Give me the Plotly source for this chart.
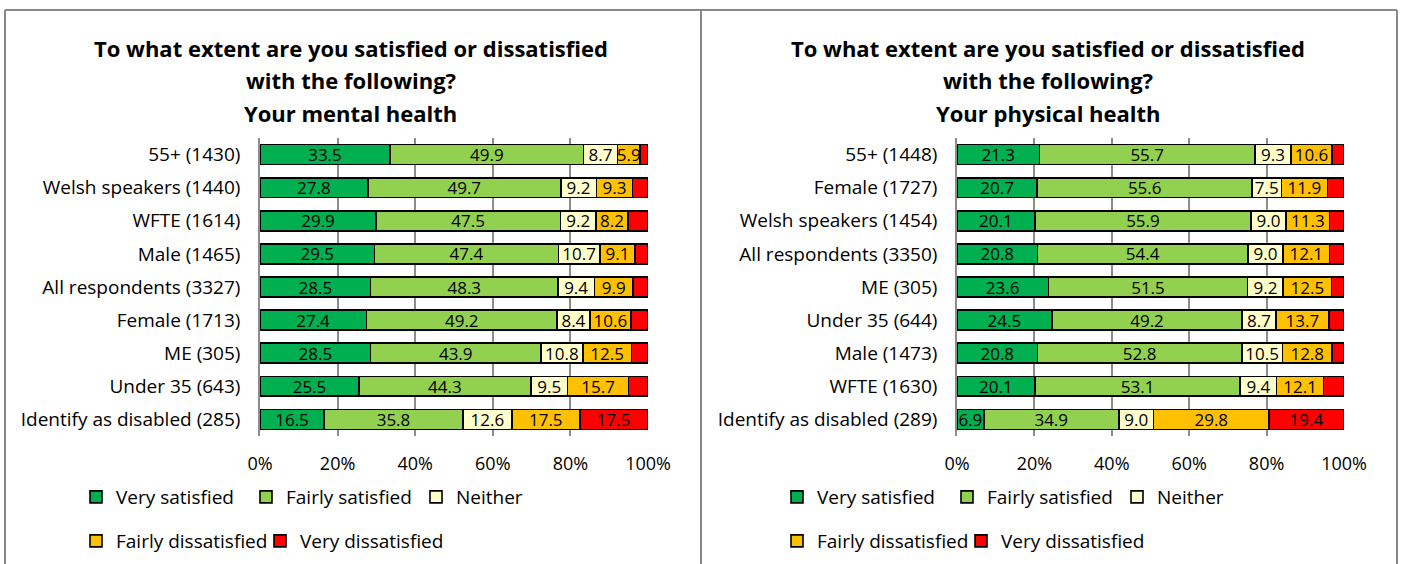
import plotly.graph_objects as go

W, H = 1402, 564
FONT = "Open Sans"

series_names = ["Very satisfied", "Fairly satisfied", "Neither",
                "Fairly dissatisfied", "Very dissatisfied"]
series_colors = ["#00B050", "#92D050", "#FFFFCC", "#FFC000", "#FF0000"]

# ---- Left chart: mental health ----
mental_categories = ["55+ (1430)", "Welsh speakers (1440)", "WFTE (1614)", "Male (1465)",
                     "All respondents (3327)", "Female (1713)", "ME (305)",
                     "Under 35 (643)", "Identify as disabled (285)"]
mental_very_sat = [33.5, 27.8, 29.9, 29.5, 28.5, 27.4, 28.5, 25.5, 16.5]
mental_fairly_sat = [49.9, 49.7, 47.5, 47.4, 48.3, 49.2, 43.9, 44.3, 35.8]
mental_neither = [8.7, 9.2, 9.2, 10.7, 9.4, 8.4, 10.8, 9.5, 12.6]
mental_fairly_dis = [5.9, 9.3, 8.2, 9.1, 9.9, 10.6, 12.5, 15.7, 17.5]
mental_very_dis = [2.0, 4.0, 5.2, 3.3, 3.9, 4.4, 4.3, 5.0, 17.5]

# ---- Right chart: physical health ----
physical_categories = ["55+ (1448)", "Female (1727)", "Welsh speakers (1454)",
                       "All respondents (3350)", "ME (305)", "Under 35 (644)",
                       "Male (1473)", "WFTE (1630)", "Identify as disabled (289)"]
physical_very_sat = [21.3, 20.7, 20.1, 20.8, 23.6, 24.5, 20.8, 20.1, 6.9]
physical_fairly_sat = [55.7, 55.6, 55.9, 54.4, 51.5, 49.2, 52.8, 53.1, 34.9]
physical_neither = [9.3, 7.5, 9.0, 9.0, 9.2, 8.7, 10.5, 9.4, 9.0]
physical_fairly_dis = [10.6, 11.9, 11.3, 12.1, 12.5, 13.7, 12.8, 12.1, 29.8]
physical_very_dis = [3.1, 4.3, 3.7, 3.7, 3.2, 3.9, 3.1, 5.3, 19.4]

title_lines = ["To what extent are you satisfied or dissatisfied",
               "with the following?"]
mental_subtitle = "Your mental health"
physical_subtitle = "Your physical health"

x_tick_vals = [0, 20, 40, 60, 80, 100]
x_tick_text = ["0%", "20%", "40%", "60%", "80%", "100%"]


def px_x(p):
    return p / W


def px_y(p):
    return 1 - p / H


fig = go.Figure()

panels = [
    dict(cats=mental_categories,
         vals=[mental_very_sat, mental_fairly_sat, mental_neither, mental_fairly_dis, mental_very_dis],
         xaxis="x", yaxis="y", legends=["legend", "legend", "legend", "legend2", "legend3"]),
    dict(cats=physical_categories,
         vals=[physical_very_sat, physical_fairly_sat, physical_neither, physical_fairly_dis, physical_very_dis],
         xaxis="x2", yaxis="y2", legends=["legend4", "legend4", "legend4", "legend5", "legend6"]),
]

for p in panels:
    for i, (name, color) in enumerate(zip(series_names, series_colors)):
        vals = p["vals"][i]
        if i == 4:
            text = [f"{v:.1f}" if v >= 10 else "" for v in vals]
        else:
            text = [f"{v:.1f}" for v in vals]
        fig.add_trace(go.Bar(
            y=p["cats"], x=vals, orientation="h", name=name,
            marker=dict(color=color, line=dict(color="#000000", width=1.6)),
            text=text, textposition="inside", insidetextanchor="middle",
            textangle=0,
            textfont=dict(family=FONT, size=17, color="#000000"),
            xaxis=p["xaxis"], yaxis=p["yaxis"], legend=p["legends"][i],
            hoverinfo="x+y+name",
        ))

grid_color = "#8C8C8C"
common_x = dict(range=[0, 100], tickvals=x_tick_vals, ticktext=x_tick_text,
                showgrid=True, gridcolor=grid_color, gridwidth=1.5,
                zeroline=False, showline=False, ticks="", automargin=False,
                tickfont=dict(family=FONT, size=18, color="#000000"),
                ticklabelstandoff=15, fixedrange=True)
common_y = dict(autorange="reversed", showgrid=False, showline=True,
                linecolor=grid_color, linewidth=1.5, ticks="", automargin=False,
                tickfont=dict(family=FONT, size=19, color="#000000"),
                ticklabelstandoff=14, fixedrange=True, type="category")

y_dom = [px_y(436), px_y(138)]

fig.update_layout(
    width=W, height=H,
    margin=dict(l=0, r=0, t=0, b=0, autoexpand=False),
    paper_bgcolor="white", plot_bgcolor="white",
    barmode="stack", bargap=0.4,
    font=dict(family=FONT, size=18, color="#000000"),
    uniformtext=dict(minsize=16, mode="show"),
    xaxis=dict(domain=[px_x(260), px_x(648)], anchor="y", **common_x),
    yaxis=dict(domain=y_dom, anchor="x", **common_y),
    xaxis2=dict(domain=[px_x(957), px_x(1344)], anchor="y2", **common_x),
    yaxis2=dict(domain=y_dom, anchor="x2", **common_y),
    showlegend=True,
)

leg_common = dict(orientation="h", xanchor="left", yanchor="middle",
                  font=dict(family=FONT, size=19, color="#000000"),
                  bgcolor="rgba(0,0,0,0)", traceorder="normal",
                  itemclick=False, itemdoubleclick=False)
fig.update_layout(
    legend=dict(x=px_x(76), y=px_y(497), entrywidth=125, entrywidthmode="pixels", **leg_common),
    legend2=dict(x=px_x(76), y=px_y(541), **leg_common),
    legend3=dict(x=px_x(260), y=px_y(541), **leg_common),
    legend4=dict(x=px_x(777), y=px_y(497), entrywidth=125, entrywidthmode="pixels", **leg_common),
    legend5=dict(x=px_x(777), y=px_y(541), **leg_common),
    legend6=dict(x=px_x(961), y=px_y(541), **leg_common),
)

# Titles
for cx, sub in [(351, mental_subtitle), (1048, physical_subtitle)]:
    for k, line in enumerate(title_lines + [sub]):
        fig.add_annotation(x=px_x(cx), y=px_y(48 + 32.5 * k), xref="paper", yref="paper",
                           text=f"<b>{line}</b>", showarrow=False,
                           xanchor="center", yanchor="middle",
                           font=dict(family=FONT, size=22, color="#000000"))

# Panel borders
border = dict(color="#898989", width=2)
fig.add_shape(type="line", xref="paper", yref="paper", x0=px_x(5), x1=px_x(1397),
              y0=px_y(10), y1=px_y(10), line=border)
for bx in [5, 701, 1397]:
    fig.add_shape(type="line", xref="paper", yref="paper", x0=px_x(bx), x1=px_x(bx),
                  y0=px_y(10), y1=px_y(564), line=border)

fig.write_html("out.html", config={"displayModeBar": False},
               post_script="document.body.style.margin='0';document.body.style.overflow='hidden';")
